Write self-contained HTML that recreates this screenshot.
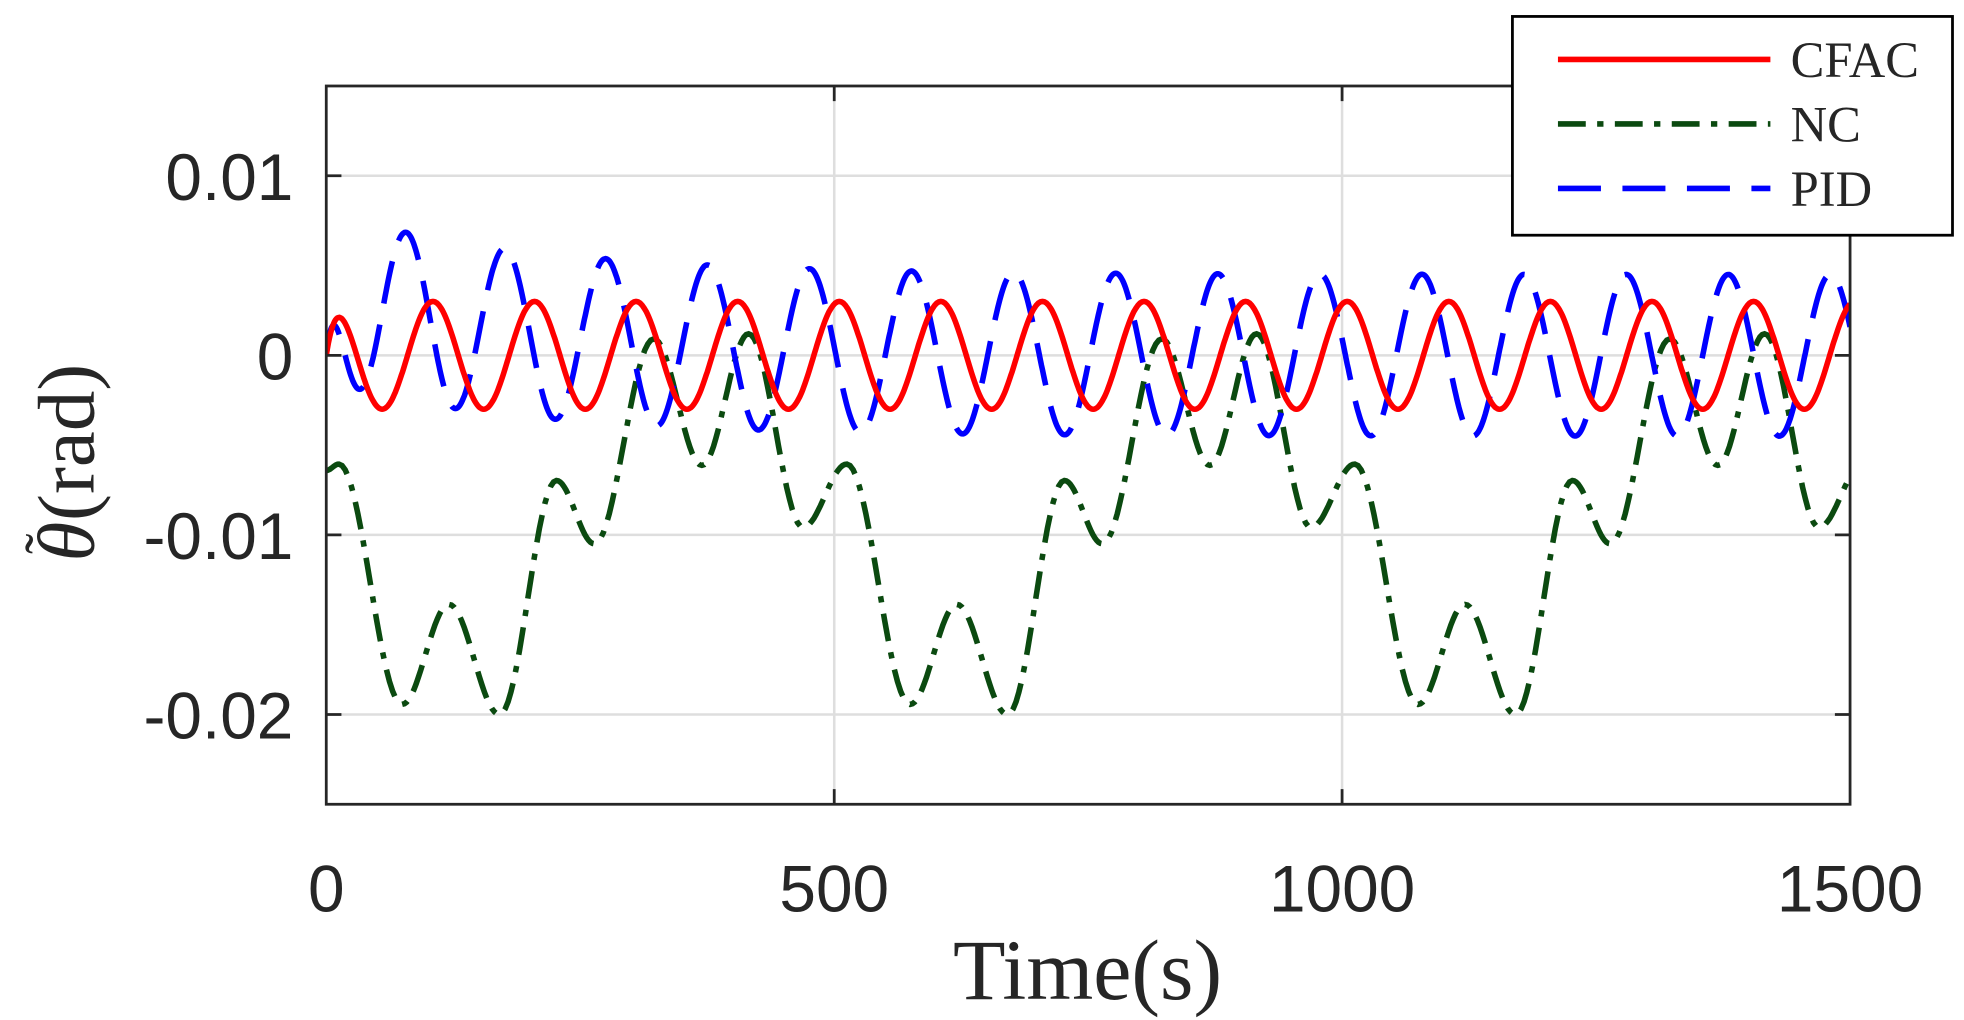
<!DOCTYPE html>
<html><head><meta charset="utf-8"><style>
html,body{margin:0;padding:0;background:#fff;}
svg{display:block;}
</style></head><body>
<svg id="s" width="1964" height="1020" viewBox="0 0 1553.1 806.6" preserveAspectRatio="none" xmlns="http://www.w3.org/2000/svg">
<defs><clipPath id="c"><rect x="258" y="68" width="1205" height="568"/></clipPath></defs>
<rect x="0" y="0" width="1553.1" height="806.6" fill="#fff"/>
<g stroke="#dedede" stroke-width="2">
<line x1="258" y1="139" x2="1463" y2="139"/><line x1="258" y1="281" x2="1463" y2="281"/>
<line x1="258" y1="423" x2="1463" y2="423"/><line x1="258" y1="565" x2="1463" y2="565"/>
<line x1="659.7" y1="68" x2="659.7" y2="636"/><line x1="1061.3" y1="68" x2="1061.3" y2="636"/>
</g>
<g clip-path="url(#c)" fill="none" stroke-width="4.4">
<path id="nc" stroke="#0b4a10" stroke-dasharray="22,9,5,9"/>
<path id="pid" stroke="#0000ff" stroke-dasharray="34,17"/>
<path id="cf" stroke="#ff0000"/>
</g>
<g stroke="#262626" stroke-width="2.2" fill="none">
<rect x="258" y="68" width="1205" height="568"/>
<path d="M258 139h12M258 281h12M258 423h12M258 565h12M1463 139h-12M1463 281h-12M1463 423h-12M1463 565h-12M659.7 636v-12M1061.3 636v-12M659.7 68v12M1061.3 68v12"/>
</g>
<g font-family="Liberation Sans, sans-serif" font-size="52" fill="#262626" text-anchor="end">
<text x="232" y="158">0.01</text><text x="232" y="300">0</text>
<text x="232" y="442">-0.01</text><text x="232" y="584">-0.02</text>
</g>
<g font-family="Liberation Sans, sans-serif" font-size="52" fill="#262626" text-anchor="middle">
<text x="258" y="721">0</text><text x="659.7" y="721">500</text>
<text x="1061.3" y="721">1000</text><text x="1463" y="721">1500</text>
</g>
<text x="860" y="790" font-family="Liberation Serif, serif" font-size="68" fill="#262626" text-anchor="middle">Time(s)</text>
<g transform="translate(74,356) rotate(-90)" font-family="Liberation Serif, serif" font-size="64" fill="#262626">
<text x="-88" y="0" font-style="italic">θ</text>
<text x="-82" y="-22" font-size="48">˜</text>
<text x="-56" y="0">(rad)</text>
</g>
<rect x="1196" y="13" width="348" height="173" fill="#fff" stroke="#000" stroke-width="2.2"/>
<g stroke-width="4.4">
<line x1="1232" y1="47" x2="1400" y2="47" stroke="#ff0000"/>
<line x1="1232" y1="98" x2="1400" y2="98" stroke="#0b4a10" stroke-dasharray="22,9,5,9"/>
<line x1="1232" y1="149" x2="1400" y2="149" stroke="#0000ff" stroke-dasharray="34,17"/>
</g>
<g font-family="Liberation Serif, serif" font-size="40" fill="#262626">
<text x="1416" y="61">CFAC</text><text x="1416" y="112">NC</text><text x="1416" y="163">PID</text>
</g>
</svg>
<script>
function X(t){return 258+t*1205/1500;}
function Y(v){return 281-v*14200;}
var cf="",pid="";
for(var t=0;t<=1500;t+=1){
 var e=1-Math.exp(-t/8);
 var v=0.003*Math.sin(2*Math.PI*(t+20)/100)*e;
 cf+=(t?"L":"M")+X(t).toFixed(1)+" "+Y(v).toFixed(1);
 var c=0.0032*Math.exp(-t/200);
 var a=0.0045+0.0003*Math.exp(-t/200);
 var tw=t-12*Math.exp(-t/90);
 var w=a*Math.sin(2*Math.PI*(tw-48.5)/100.5)+c;
 w*= (1-Math.exp(-t/12));
 pid+=(t?"L":"M")+X(t).toFixed(1)+" "+Y(w).toFixed(1);
}
document.getElementById("cf").setAttribute("d",cf);
document.getElementById("pid").setAttribute("d",pid);
var base=[[268,367],[318,557],[355,478],[395,565],[440,380],[470,430],[517,268],[555,368],[592,264],[635,417]];
var pts=[[258,372]];
for(var k=0;k<4;k++)for(var i=0;i<base.length;i++)pts.push([base[i][0]+k*401.7,base[i][1]]);
var d="M258 372";
for(var i=1;i<pts.length;i++){
 var p=pts[i-1],q=pts[i];
 for(var s=1;s<=20;s++){var f=s/20,g=(1-Math.cos(Math.PI*f))/2;
  d+="L"+(p[0]+(q[0]-p[0])*f).toFixed(1)+" "+(p[1]+(q[1]-p[1])*g).toFixed(1);}
 if(q[0]>1480)break;
}
document.getElementById("nc").setAttribute("d",d);
</script>
</body></html>
